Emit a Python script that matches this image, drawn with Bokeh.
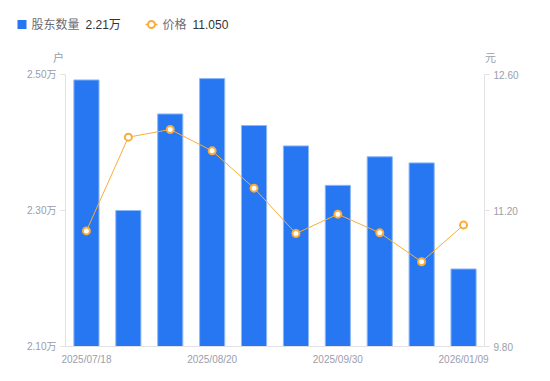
from bokeh.plotting import figure
from bokeh.layouts import column, row
from bokeh.models import Range1d, LinearAxis, FixedTicker
from bokeh.core.properties import value
from bokeh.embed import file_html
from bokeh.resources import INLINE

dates = ["2025/07/18", "2025/07/31", "2025/08/10", "2025/08/20", "2025/08/31",
         "2025/09/10", "2025/09/30", "2025/10/31", "2025/12/10", "2026/01/09"]
holders = [2.492, 2.300, 2.442, 2.494, 2.425, 2.395, 2.337, 2.379, 2.370, 2.214]  # 万户
price = [10.99, 11.955, 12.034, 11.814, 11.43, 10.963, 11.162, 10.97, 10.672, 11.05]
left_ticks = [2.10, 2.30, 2.50]
right_ticks = [9.80, 11.20, 12.60]
shown_idx = [0, 3, 6, 9]
series_names = ["股东数量", "价格"]
units = ["户", "元"]

FONT = "'Liberation Sans', 'Noto Sans CJK SC', sans-serif"
GRAY = "#9b9dab"
AXIS = "#e2e2e6"
BLUE = "#2677f1"
ORANGE = "#f9ad3b"

idx = list(range(len(dates)))

# ---------- header strip (legend + axis units) ----------
W, HTOP = 550, 66
top = figure(width=W, height=HTOP, output_backend="svg", toolbar_location=None,
             x_range=Range1d(0, W), y_range=Range1d(HTOP, 0),
             min_border=0, min_border_left=0, min_border_right=0,
             min_border_top=0, min_border_bottom=0,
             x_axis_location=None, y_axis_location=None)
top.outline_line_color = None
top.grid.visible = False

top.rect(x=[21.5], y=[24], width=9, height=9, width_units="screen", height_units="screen",
         fill_color=BLUE, line_color=None)
top.text(x=[31], y=[24], text=[series_names[0]], text_font=value(FONT), text_font_size="12px",
         text_color="#6b6b75", text_baseline="middle")
top.text(x=[85], y=[24], text=[f"{holders[-1]:.2f}万"], text_font=value(FONT),
         text_font_size="12px", text_color="#333333", text_baseline="middle")
top.line(x=[145, 157], y=[24, 24], line_color=ORANGE, line_width=1.5)
top.scatter(x=[151], y=[24], size=7, marker="circle", fill_color="white",
            line_color=ORANGE, line_width=2)
top.text(x=[162], y=[24], text=[series_names[1]], text_font=value(FONT), text_font_size="12px",
         text_color="#6b6b75", text_baseline="middle")
top.text(x=[192], y=[24], text=[f"{price[-1]:.3f}"], text_font=value(FONT),
         text_font_size="12px", text_color="#333333", text_baseline="middle")
top.text(x=[58, 490], y=[57, 57], text=units, text_font=value(FONT), text_font_size="11px",
         text_color=GRAY, text_baseline="middle", text_align="center")

# ---------- main chart ----------
p = figure(width=W, height=381 - HTOP, output_backend="svg", toolbar_location=None,
           x_range=Range1d(-0.5, len(dates) - 0.5),
           y_range=Range1d(left_ticks[0], left_ticks[-1]),
           min_border_left=65, min_border_right=66, min_border_top=8, min_border_bottom=35,
           y_axis_location=None)
p.outline_line_color = None
p.xgrid.visible = False
p.ygrid.visible = False
p.extra_y_ranges = {"price": Range1d(right_ticks[0], right_ticks[-1])}

xa = p.xaxis[0]
xa.ticker = FixedTicker(ticks=shown_idx)
xa.major_label_overrides = {i: dates[i] for i in shown_idx}
xa.major_tick_line_color = None
xa.minor_tick_line_color = None
xa.axis_line_color = AXIS
xa.major_label_text_color = GRAY
xa.major_label_text_font = FONT
xa.major_label_text_font_size = "10px"
xa.major_label_standoff = 1

la = LinearAxis(ticker=FixedTicker(ticks=left_ticks),
                major_label_overrides={t: f"{t:.2f}万" for t in left_ticks})
ra = LinearAxis(y_range_name="price", ticker=FixedTicker(ticks=right_ticks),
                major_label_overrides={t: f"{t:.2f}" for t in right_ticks})
for a in (la, ra):
    a.axis_line_color = AXIS
    a.major_tick_line_color = AXIS
    a.major_tick_out = 5
    a.major_tick_in = 0
    a.minor_tick_line_color = None
    a.major_label_text_color = GRAY
    a.major_label_text_font = FONT
    a.major_label_text_font_size = "10px"
    a.major_label_standoff = 4
p.add_layout(la, "left")
p.add_layout(ra, "right")

p.vbar(x=idx, top=holders, bottom=left_ticks[0], width=0.6,
       fill_color=BLUE, line_color="#8db8f8", line_width=1)
p.line(idx, price, y_range_name="price", line_color=ORANGE, line_width=1)
p.scatter(idx, price, y_range_name="price", size=7, marker="circle",
          fill_color="white", line_color=ORANGE, line_width=2)

layout = column(row(top), row(p), spacing=0)
open("out.html", "w").write(file_html(layout, INLINE))
